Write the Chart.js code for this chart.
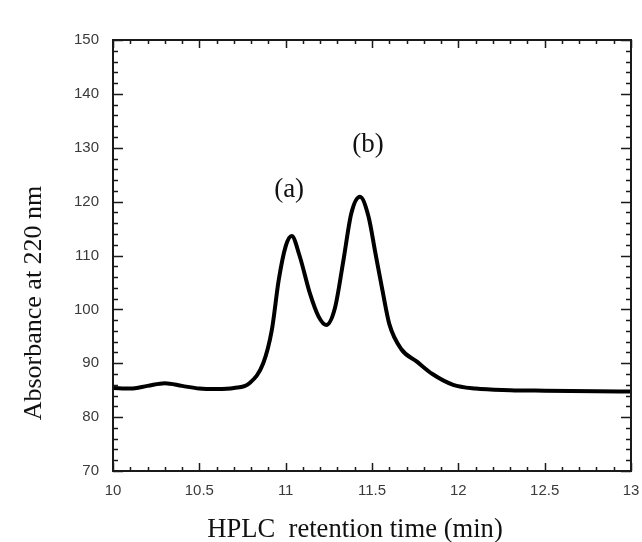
<!DOCTYPE html>
<html>
<head>
<meta charset="utf-8">
<script src="https://cdn.jsdelivr.net/npm/chart.js@4.4.1/dist/chart.umd.min.js"></script>
<style>
  html, body { margin: 0; padding: 0; background: #fff; }
  #wrap { width: 642px; height: 542px; }
</style>
</head>
<body>
<div id="wrap"><canvas id="hplc" width="642" height="542"></canvas></div>
<script>
// chromatogram trace
const retentionTime = [10.0, 10.1, 10.2, 10.3, 10.4, 10.5, 10.6, 10.7, 10.79, 10.87, 10.92, 10.96, 11.0, 11.035,
  11.08, 11.14, 11.19, 11.235, 11.285, 11.335, 11.38, 11.43, 11.48, 11.52, 11.56, 11.6, 11.67, 11.76, 11.85,
  11.97, 12.1, 12.3, 12.5, 12.8, 13.0];
const absorbance = [85.4, 85.3, 85.8, 86.3, 85.8, 85.3, 85.2, 85.4, 86.3, 90.0, 96.2, 105.5, 111.7, 113.6,
  110.0, 103.0, 98.7, 97.1, 100.2, 109.2, 117.8, 120.9, 117.2, 110.4, 103.6, 97.3, 92.6, 90.3, 88.0,
  86.0, 85.3, 85.0, 84.9, 84.8, 84.75];

const xTickValues = [10, 10.5, 11, 11.5, 12, 12.5, 13];
const yTickValues = [70, 80, 90, 100, 110, 120, 130, 140, 150];

const peakNames = ['(a)', '(b)'];
const peakNameX = [11.02, 11.477];
const peakNameY = [122.2, 130.5];

const xTitle = 'HPLC  retention time (min)';
const yTitle = 'Absorbance at 220 nm';

const serif = '"Liberation Serif", "Times New Roman", serif';

// frame, inward ticks, titles and peak names
const framePlugin = {
  id: 'frame',
  afterDraw(chart) {
    const { ctx, chartArea: a, scales: { x, y } } = chart;
    ctx.save();
    ctx.strokeStyle = '#1a1a1a';
    ctx.lineWidth = 2;
    ctx.strokeRect(a.left, a.top, a.right - a.left, a.bottom - a.top);

    ctx.lineWidth = 1.5;
    ctx.beginPath();
    for (let i = 0; i <= 30; i++) {
      const px = Math.round(x.getPixelForValue(10 + i * 0.1)) + 0.5;
      const len = i % 5 === 0 ? 8 : 4;
      ctx.moveTo(px, a.bottom); ctx.lineTo(px, a.bottom - len);
      ctx.moveTo(px, a.top); ctx.lineTo(px, a.top + len);
    }
    for (let v = 70; v <= 150; v += 2) {
      const py = Math.round(y.getPixelForValue(v)) + 0.5;
      const len = v % 10 === 0 ? 10 : 5;
      ctx.moveTo(a.left, py); ctx.lineTo(a.left + len, py);
      ctx.moveTo(a.right, py); ctx.lineTo(a.right - len, py);
    }
    ctx.stroke();

    ctx.fillStyle = '#111';
    ctx.textAlign = 'center';
    ctx.textBaseline = 'middle';
    ctx.font = '27px ' + serif;
    peakNames.forEach((name, i) => {
      ctx.fillText(name, x.getPixelForValue(peakNameX[i]), y.getPixelForValue(peakNameY[i]));
    });

    // x title, slightly condensed like the original
    ctx.textBaseline = 'alphabetic';
    ctx.save();
    ctx.translate(355, 537);
    ctx.scale(0.95, 1);
    ctx.font = '28px ' + serif;
    ctx.fillText(xTitle, 0, 0);
    ctx.restore();

    ctx.translate(41, 303);
    ctx.rotate(-Math.PI / 2);
    ctx.font = '26px ' + serif;
    ctx.fillText(yTitle, 0, 0);
    ctx.restore();
  }
};

const tickFont = { family: '"Liberation Sans", Arial, sans-serif', size: 15 };

new Chart(document.getElementById('hplc'), {
  type: 'line',
  data: {
    datasets: [{
      data: retentionTime.map((t, i) => ({ x: t, y: absorbance[i] })),
      borderColor: '#000',
      borderWidth: 4,
      pointRadius: 0,
      cubicInterpolationMode: 'monotone',
      fill: false
    }]
  },
  options: {
    responsive: false,
    animation: false,
    devicePixelRatio: 1,
    layout: { padding: { top: 40, right: 11, left: 0, bottom: 0 } },
    plugins: { legend: { display: false }, tooltip: { enabled: false } },
    scales: {
      x: {
        type: 'linear',
        min: 10,
        max: 13,
        afterBuildTicks: (s) => { s.ticks = xTickValues.map(v => ({ value: v })); },
        afterFit: (s) => { s.height = 71; s.paddingLeft = 0; s.paddingRight = 0; },
        grid: { display: false, drawTicks: false },
        border: { display: false },
        ticks: { padding: 11, color: '#3a3a3a', font: tickFont, maxRotation: 0, callback: (v) => String(v) }
      },
      y: {
        min: 70,
        max: 150,
        afterBuildTicks: (s) => { s.ticks = yTickValues.map(v => ({ value: v })); },
        afterFit: (s) => { s.width = 113; s.paddingTop = 0; s.paddingBottom = 0; },
        grid: { display: false, drawTicks: false },
        border: { display: false },
        ticks: { padding: 14, color: '#3a3a3a', font: tickFont, callback: (v) => String(v) }
      }
    }
  },
  plugins: [framePlugin]
});
</script>
</body>
</html>
